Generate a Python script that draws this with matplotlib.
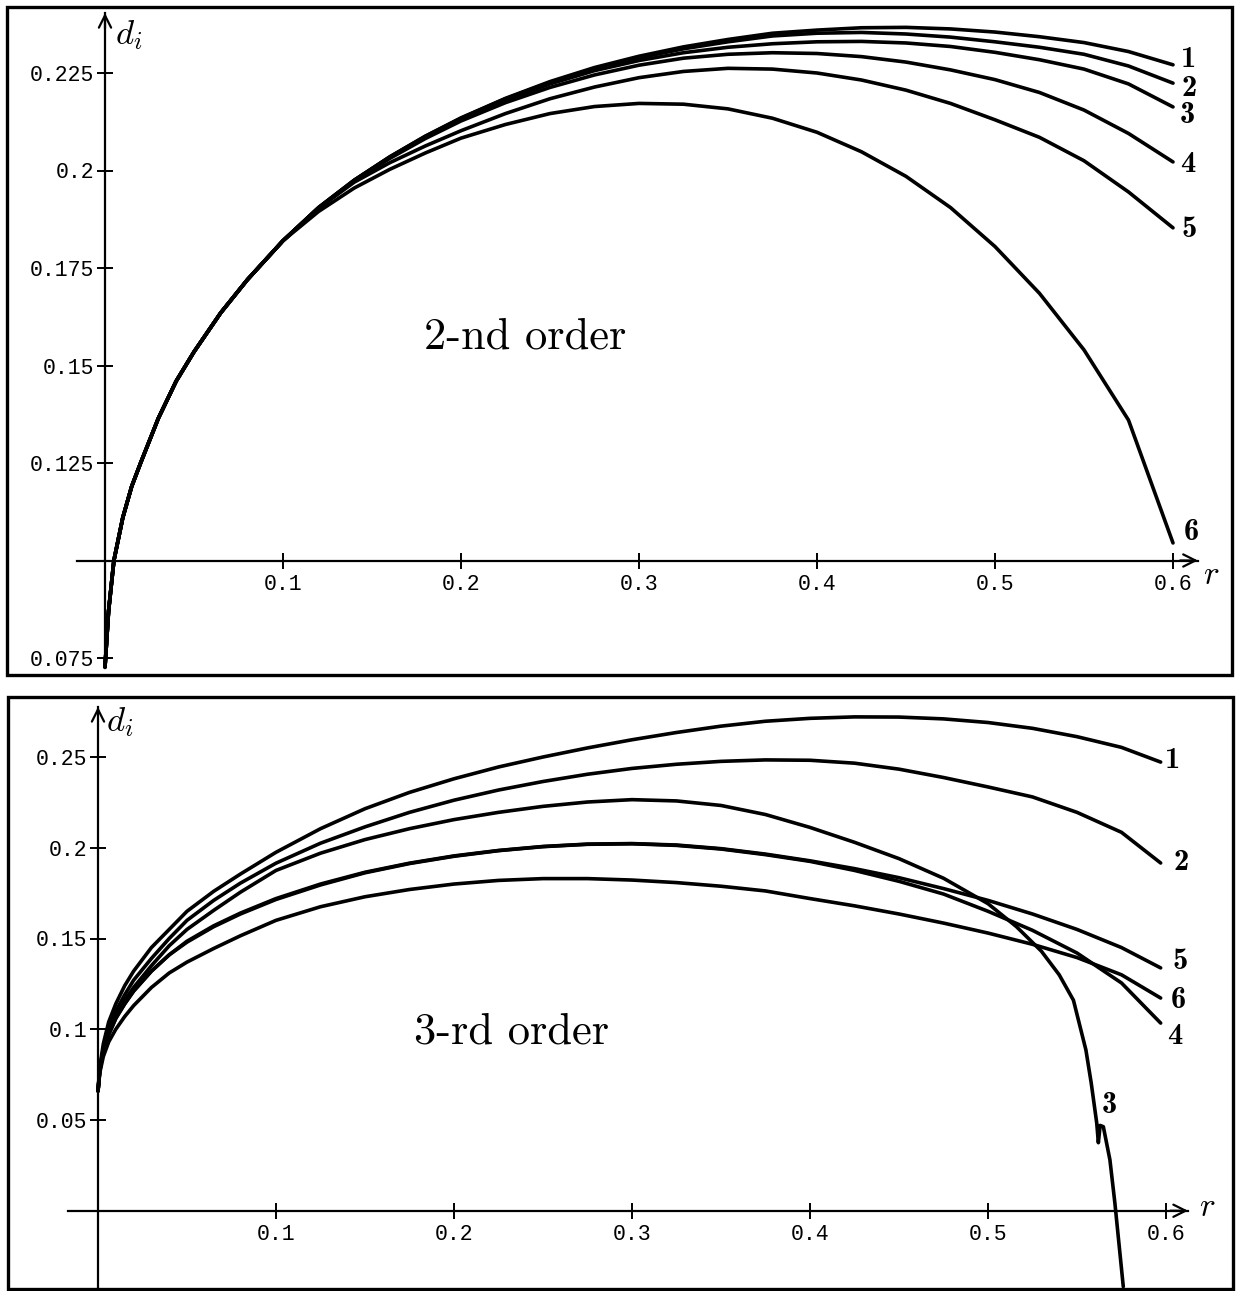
import matplotlib
matplotlib.use('Agg')
import matplotlib.pyplot as plt
from matplotlib.patches import Rectangle

plt.rcParams['mathtext.fontset'] = 'cm'

# ---------------- data: top panel (2-nd order) ----------------
r_top = [0.0, 0.002, 0.005, 0.01, 0.015, 0.02, 0.03, 0.04, 0.05, 0.065, 0.08, 0.1,
         0.12, 0.14, 0.16, 0.18, 0.2, 0.225, 0.25, 0.275, 0.3, 0.325, 0.35, 0.375,
         0.4, 0.425, 0.45, 0.475, 0.5, 0.525, 0.55, 0.575, 0.6]
rise_top = [0.0727, 0.087, 0.100, 0.111, 0.119, 0.125, 0.1365, 0.146, 0.1535, 0.1635, 0.172, 0.182]
top_1 = rise_top + [0.1905, 0.1975, 0.2035, 0.2088, 0.2135, 0.2185, 0.2228, 0.2264, 0.2293, 0.2317,
                    0.2336, 0.2352, 0.2360, 0.2366, 0.2367, 0.2363, 0.2355, 0.2343, 0.2328, 0.2305, 0.2271]
top_2 = rise_top + [0.1905, 0.1975, 0.2035, 0.2088, 0.2134, 0.2184, 0.2226, 0.2261, 0.2289, 0.2312,
                    0.2330, 0.2345, 0.2352, 0.2354, 0.2350, 0.2342, 0.2330, 0.2316, 0.2298, 0.2268, 0.2224]
top_3 = rise_top + [0.1905, 0.1975, 0.2034, 0.2086, 0.2131, 0.2180, 0.2222, 0.2256, 0.2282, 0.2302,
                    0.2316, 0.2325, 0.2330, 0.2331, 0.2327, 0.2318, 0.2303, 0.2284, 0.2260, 0.2222, 0.2163]
top_4 = rise_top + [0.1904, 0.1973, 0.2031, 0.2082, 0.2127, 0.2174, 0.2213, 0.2245, 0.2270, 0.2288,
                    0.2298, 0.2302, 0.2300, 0.2292, 0.2278, 0.2258, 0.2233, 0.2200, 0.2155, 0.2095, 0.2022]
top_5 = rise_top + [0.1903, 0.1970, 0.2020, 0.2063, 0.2102, 0.2146, 0.2184, 0.2214, 0.2238, 0.2254,
                    0.2262, 0.2260, 0.2250, 0.2232, 0.2206, 0.2172, 0.2130, 0.2085, 0.2025, 0.1945, 0.1853]
top_6 = rise_top + [0.1895, 0.1955, 0.2003, 0.2045, 0.2083, 0.2118, 0.2146, 0.2164, 0.2172, 0.2170,
                    0.2158, 0.2134, 0.2098, 0.2048, 0.1985, 0.1905, 0.1805, 0.1685, 0.1540, 0.1360, 0.1045]
top_curves = [top_1, top_2, top_3, top_4, top_5, top_6]
top_names = ['1', '2', '3', '4', '5', '6']
top_yticks = [0.075, 0.125, 0.15, 0.175, 0.2, 0.225]
top_ylabels = ['0.075', '0.125', '0.15', '0.175', '0.2', '0.225']

# ---------------- data: bottom panel (3-rd order) ----------------
r_bot = [0.0, 0.001, 0.003, 0.006, 0.01, 0.015, 0.02, 0.03, 0.04, 0.05, 0.065, 0.08, 0.1,
         0.125, 0.15, 0.175, 0.2, 0.225, 0.25, 0.275, 0.3, 0.325, 0.35, 0.375, 0.4,
         0.425, 0.45, 0.475, 0.5, 0.525, 0.55, 0.575, 0.597]
bot_1 = [0.066, 0.079, 0.092, 0.104, 0.114, 0.124, 0.132, 0.145, 0.155, 0.165, 0.176, 0.1855, 0.1975,
         0.2105, 0.2215, 0.2305, 0.2380, 0.2445, 0.2500, 0.2550, 0.2595, 0.2635, 0.2670, 0.2697, 0.2713,
         0.2721, 0.2720, 0.2710, 0.2690, 0.2658, 0.2612, 0.2553, 0.2472]
bot_2 = [0.066, 0.078, 0.090, 0.101, 0.110, 0.119, 0.127, 0.139, 0.150, 0.160, 0.171, 0.1805, 0.1915,
         0.2025, 0.2115, 0.2195, 0.2262, 0.2318, 0.2365, 0.2405, 0.2437, 0.2460, 0.2476, 0.2484, 0.2482,
         0.2466, 0.2433, 0.2387, 0.2335, 0.2280, 0.2195, 0.2085, 0.1916]
r_bot_3 = r_bot[:29] + [0.516, 0.53, 0.54, 0.548, 0.555, 0.558, 0.5611, 0.5620, 0.5630, 0.5648,
                        0.5685, 0.5713, 0.576]
bot_3 = [0.066, 0.077, 0.088, 0.098, 0.107, 0.116, 0.123, 0.135, 0.146, 0.155, 0.1655, 0.1755, 0.1875,
         0.197, 0.2045, 0.2105, 0.2155, 0.2195, 0.2228, 0.2252, 0.2265, 0.2258, 0.2233, 0.2183, 0.2112,
         0.2030, 0.1940, 0.1832, 0.1692,
         0.1565, 0.143, 0.130, 0.116, 0.0886, 0.0703, 0.0482, 0.0375, 0.0470, 0.0463,
         0.0280, 0.0041, -0.0418]
bot_4 = [0.066, 0.077, 0.088, 0.097, 0.106, 0.114, 0.121, 0.132, 0.141, 0.1480, 0.1565, 0.1635, 0.1715,
         0.1795, 0.1862, 0.1913, 0.1953, 0.1984, 0.2006, 0.2019, 0.2022, 0.2013, 0.1993, 0.1962, 0.1925,
         0.1875, 0.1815, 0.1745, 0.1650, 0.1545, 0.1420, 0.1255, 0.1034]
bot_5 = [0.066, 0.077, 0.088, 0.097, 0.106, 0.114, 0.121, 0.132, 0.141, 0.1485, 0.1570, 0.1640, 0.1720,
         0.1800, 0.1865, 0.1915, 0.1955, 0.1985, 0.2007, 0.2020, 0.2023, 0.2015, 0.1995, 0.1965, 0.1928,
         0.1885, 0.1835, 0.1775, 0.1710, 0.1635, 0.1550, 0.1450, 0.1338]
bot_6 = [0.066, 0.076, 0.085, 0.093, 0.100, 0.107, 0.113, 0.123, 0.131, 0.137, 0.1445, 0.1515, 0.1600,
         0.1675, 0.1730, 0.1770, 0.1800, 0.1820, 0.1830, 0.1830, 0.1822, 0.1808, 0.1788, 0.1762, 0.1720,
         0.1680, 0.1635, 0.1585, 0.1530, 0.1468, 0.1395, 0.1300, 0.1172]
bot_yticks = [0.05, 0.1, 0.15, 0.2, 0.25]
bot_ylabels = ['0.05', '0.1', '0.15', '0.2', '0.25']

xticks = [0.1, 0.2, 0.3, 0.4, 0.5, 0.6]
xlabels = ['0.1', '0.2', '0.3', '0.4', '0.5', '0.6']

# ---------------- figure ----------------
W, H = 1241, 1291
fig = plt.figure(figsize=(W / 100, H / 100), dpi=100)


def fx(px):
    return px / W


def fy(py):
    return 1 - py / H


# panel frames
fig.patches.append(Rectangle((fx(7), fy(675)), (1232 - 7) / W, (675 - 7) / H, transform=fig.transFigure,
                             fill=False, lw=2.4, ec='black', zorder=0))
fig.patches.append(Rectangle((fx(8), fy(1289)), (1233 - 8) / W, (1289 - 697) / H, transform=fig.transFigure,
                             fill=False, lw=2.4, ec='black', zorder=0))

CURVE_LW = 2.6
AX_LW = 1.6
TICKFONT = 'Liberation Mono'


def setup_axes(rect, xlim, ylim, xaxis_y, ybounds, xbounds, yticks, ylabels):
    left, top, right, bottom = rect
    ax = fig.add_axes([fx(left), fy(bottom), (right - left) / W, (bottom - top) / H])
    ax.set_xlim(*xlim)
    ax.set_ylim(*ylim)
    ax.patch.set_visible(False)
    ax.spines['top'].set_visible(False)
    ax.spines['right'].set_visible(False)
    ax.spines['left'].set_position(('data', 0))
    ax.spines['bottom'].set_position(('data', xaxis_y))
    ax.spines['left'].set_bounds(*ybounds)
    ax.spines['bottom'].set_bounds(*xbounds)
    for s in ('left', 'bottom'):
        ax.spines[s].set_linewidth(AX_LW)
    ax.set_xticks(xticks, labels=xlabels)
    ax.set_yticks(yticks, labels=ylabels)
    ax.tick_params(direction='inout', length=11, width=1.4, labelsize=15.5, pad=2.5)
    ax.tick_params(axis='x', pad=4)
    for lbl in ax.get_xticklabels() + ax.get_yticklabels():
        lbl.set_fontfamily(TICKFONT)
    # arrow heads
    ax.annotate('', xy=(xbounds[1], xaxis_y), xytext=(xbounds[1] - 0.01, xaxis_y),
                arrowprops=dict(arrowstyle='->', lw=AX_LW, mutation_scale=22, shrinkA=0, shrinkB=0))
    ax.annotate('', xy=(0, ybounds[1]), xytext=(0, ybounds[1] - 0.004),
                arrowprops=dict(arrowstyle='->', lw=AX_LW, mutation_scale=22, shrinkA=0, shrinkB=0))
    return ax


# top axes: pixel mapping r=(px-105)/1780, d=0.075+(658-py)/3900
axT = setup_axes((12, 10, 1228, 672),
                 ((12 - 105) / 1780, (1228 - 105) / 1780),
                 (0.075 + (658 - 672) / 3900, 0.075 + (658 - 10) / 3900),
                 0.1, (0.0724, 0.2404), (-0.0157, 0.614), top_yticks, top_ylabels)

top_offsets = [(16, 5), (16, -5), (14, -9), (15, -3), (16, -2), (18, 10)]
for ys, name, off in zip(top_curves, top_names, top_offsets):
    axT.plot(r_top, ys, color='black', lw=CURVE_LW, solid_capstyle='round', solid_joinstyle='round')
    axT.annotate(name, xy=(r_top[-1], ys[-1]), xytext=off, textcoords='offset pixels',
                 ha='center', va='center', fontsize=22, fontfamily='cmb10')

# bottom axes: r=(px-98)/1780, d=(1210.75-py)/1815
axB = setup_axes((12, 701, 1228, 1291),
                 ((12 - 98) / 1780, (1228 - 98) / 1780),
                 ((1210.75 - 1291) / 1815, (1210.75 - 701) / 1815),
                 0.0, ((1210.75 - 1295) / 1815, 0.2776), (-0.0169, 0.6124), bot_yticks, bot_ylabels)

bot_series = [(r_bot, bot_1, '1', (12, 2), -1),
              (r_bot, bot_2, '2', (20, 0), -1),
              (r_bot_3, bot_3, '3', (13, 18), 35),
              (r_bot, bot_4, '4', (14, -13), -1),
              (r_bot, bot_5, '5', (19, 6), -1),
              (r_bot, bot_6, '6', (18, -2), -1)]
for rs, ys, name, off, idx in bot_series:
    axB.plot(rs, ys, color='black', lw=CURVE_LW, solid_capstyle='round', solid_joinstyle='round')
    axB.annotate(name, xy=(rs[idx], ys[idx]), xytext=off, textcoords='offset pixels',
                 ha='center', va='center', fontsize=22, fontfamily='cmb10')

# titles and axis labels
fig.text(fx(525), fy(337), '2-nd order', ha='center', va='center', fontsize=32, fontfamily='cmr10')
fig.text(fx(512), fy(1032), '3-rd order', ha='center', va='center', fontsize=32, fontfamily='cmr10')
fig.text(fx(115), fy(35), r'$d_i$', ha='left', va='center', fontsize=25)
fig.text(fx(106), fy(722), r'$d_i$', ha='left', va='center', fontsize=25)
fig.text(fx(1211), fy(574), r'$r$', ha='center', va='center', fontsize=24)
fig.text(fx(1207), fy(1206), r'$r$', ha='center', va='center', fontsize=24)

fig.savefig('out.png', dpi=100)
